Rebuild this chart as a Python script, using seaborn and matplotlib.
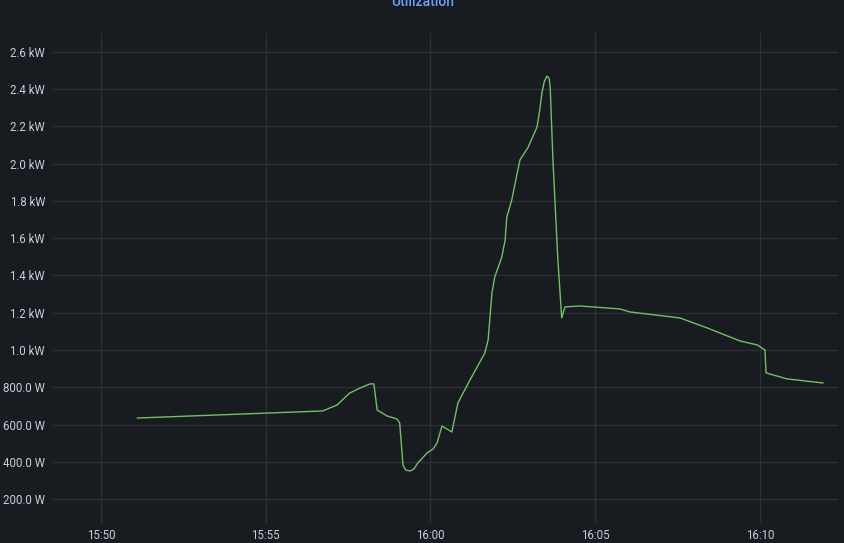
import pandas as pd
import matplotlib
matplotlib.use("Agg")
import matplotlib.pyplot as plt
import matplotlib.dates as mdates
from matplotlib.ticker import FuncFormatter
import seaborn as sns

# ===============================
# DATA
# ===============================

times = [
    "15:51:06", "15:56:44", "15:57:10", "15:57:33", "15:57:52", "15:58:10",
    "15:58:17", "15:58:23", "15:58:41", "15:58:59", "15:59:04", "15:59:10",
    "15:59:15", "15:59:23", "15:59:30", "15:59:37", "15:59:54", "16:00:05",
    "16:00:12", "16:00:21", "16:00:39", "16:00:50", "16:01:12", "16:01:39",
    "16:01:45", "16:01:52", "16:01:57", "16:02:10", "16:02:16", "16:02:19",
    "16:02:28", "16:02:38", "16:02:43", "16:02:58", "16:03:14", "16:03:19",
    "16:03:23", "16:03:27", "16:03:32", "16:03:36", "16:03:38", "16:03:43",
    "16:03:52", "16:03:59", "16:04:05", "16:04:32", "16:05:45", "16:06:03",
    "16:07:34", "16:08:24", "16:09:24", "16:09:55", "16:10:09", "16:10:11",
    "16:10:49", "16:11:55",
]
watts = [
    635, 673, 705, 769, 796, 818,
    818, 678, 646, 630, 609, 383,
    356, 351, 362, 394, 448, 469,
    501, 592, 560, 716, 839, 984,
    1054, 1306, 1391, 1499, 1590, 1713,
    1804, 1949, 2019, 2088, 2196, 2287,
    2378, 2437, 2469, 2458, 2410, 2019,
    1483, 1172, 1231, 1236, 1220, 1204,
    1172, 1118, 1048, 1027, 1000, 877,
    845, 823,
]
y_ticks = [200, 400, 600, 800, 1000, 1200, 1400, 1600, 1800, 2000, 2200, 2400, 2600]
panel_title = "Utilization"

df = pd.DataFrame({
    "time": pd.to_datetime(["2024-01-01 " + t for t in times]),
    "power": watts,
})

# ===============================
# STYLE (Grafana dark)
# ===============================

bg = "#181b1f"
grid = "#2c2f35"
text = "#ccccdc"
green = "#73bf69"

sns.set_style("dark")
plt.rcParams["font.family"] = ["Roboto", "DejaVu Sans"]

fig = plt.figure(figsize=(8.45, 5.43), dpi=100, facecolor=bg)
ax = fig.add_axes([52 / 845, 1 - 523 / 543, (838 - 52) / 845, (523 - 33) / 543])
ax.set_facecolor(bg)

sns.lineplot(data=df, x="time", y="power", ax=ax, color=green, linewidth=1.0)

# ===============================
# AXES
# ===============================

ax.set_xlim(pd.Timestamp("2024-01-01 15:48:31"), pd.Timestamp("2024-01-01 16:12:22"))
ax.set_ylim(72, 2700)
ax.set_yticks(y_ticks)
ax.xaxis.set_major_locator(mdates.MinuteLocator(byminute=range(0, 60, 5)))
ax.xaxis.set_major_formatter(mdates.DateFormatter("%H:%M"))


def fmt_power(v, pos):
    if v >= 1000:
        return f"{v / 1000:.1f} kW"
    return f"{v:.1f} W"


ax.yaxis.set_major_formatter(FuncFormatter(fmt_power))

ax.grid(True, color=grid, linewidth=1)
for s in ax.spines.values():
    s.set_visible(False)
ax.tick_params(axis="both", length=0, colors=text, labelsize=8.3)
ax.tick_params(axis="y", pad=5)
ax.tick_params(axis="x", pad=4)
ax.set_xlabel("")
ax.set_ylabel("")

fig.text(423 / 845, 1 - 6 / 543, panel_title, ha="center", va="baseline",
         color="#6e9fff", fontsize=10, fontweight="medium")

fig.savefig("out.png", dpi=100, facecolor=bg)
